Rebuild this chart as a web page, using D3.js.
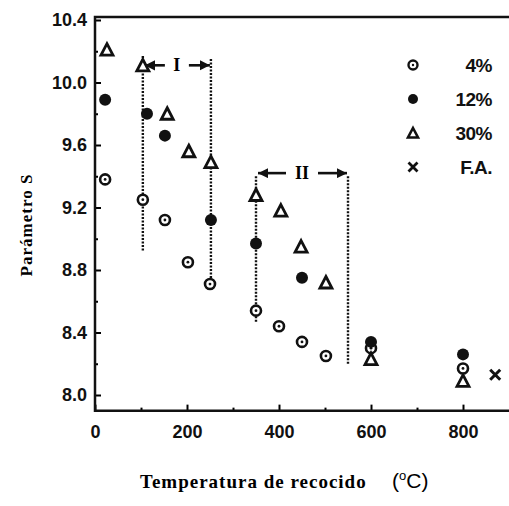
<!DOCTYPE html>
<html>
<head>
<meta charset="utf-8">
<script src="https://cdn.jsdelivr.net/npm/d3@7"></script>
<style>
  body { margin: 0; background: #fff; }
  .tick text { font-family: "Liberation Sans", Arial, sans-serif; font-weight: bold; font-size: 18px; fill: #111; }
</style>
</head>
<body>
<div id="chart"></div>
<script>
// values
var temp4 = [22, 104, 152, 202, 250, 350, 400, 450, 502, 600, 800];
var s4    = [9.38, 9.25, 9.12, 8.85, 8.71, 8.54, 8.44, 8.34, 8.25, 8.30, 8.17];
var temp12 = [22, 113, 152, 252, 350, 450, 600, 800];
var s12    = [9.89, 9.80, 9.66, 9.12, 8.97, 8.75, 8.34, 8.26];
var temp30 = [26, 104, 157, 204, 252, 350, 404, 448, 502, 600, 800];
var s30    = [10.21, 10.11, 9.80, 9.56, 9.49, 9.28, 9.18, 8.95, 8.72, 8.23, 8.09];
var tempFA = [870];
var sFA    = [8.13];

var xTicks = [0, 200, 400, 600, 800];
var yTicks = [8.0, 8.4, 8.8, 9.2, 9.6, 10.0, 10.4];
var legendLabels = ["4%", "12%", "30%", "F.A."];

// dotted boundaries: [temperature, top S, bottom S]
var regionLines = [[104, 10.17, 8.92], [252, 10.15, 8.70], [350, 9.40, 8.46], [550, 9.40, 8.20]];
var regionI = [104, 252], regionII = [350, 550];

var W = 509, H = 506;
var margin = { top: 17, left: 95, bottom: 96 };

var x = d3.scaleLinear().domain([0, 900]).range([margin.left, margin.left + 414]);
var y = d3.scaleLinear().domain([8.0, 10.4]).range([395, 20]);

var svg = d3.select("#chart").append("svg")
    .attr("width", W).attr("height", H);

var yBottom = y(7.9), yTop = margin.top;

// axes (ticks point inward)
var xAxis = svg.append("g")
    .attr("transform", "translate(0," + yBottom + ")")
    .call(d3.axisBottom(x).tickValues(xTicks).tickSize(-6).tickPadding(12).tickFormat(d3.format("d")));
xAxis.select(".domain").remove();
xAxis.selectAll(".tick line").attr("stroke-width", 2);
xAxis.selectAll(".tick text").attr("dy", "0.85em");

svg.append("g")
    .attr("transform", "translate(0," + yBottom + ")")
    .call(d3.axisBottom(x).tickValues([100, 300, 500, 700]).tickSize(-3).tickFormat(""))
    .call(function(g){ g.select(".domain").remove(); g.selectAll("line").attr("stroke-width", 2); });

var yAxis = svg.append("g")
    .attr("transform", "translate(" + margin.left + ",0)")
    .call(d3.axisLeft(y).tickValues(yTicks).tickSize(-6).tickPadding(8).tickFormat(d3.format(".1f")));
yAxis.select(".domain").remove();
yAxis.selectAll(".tick line").attr("stroke-width", 2);

svg.append("g")
    .attr("transform", "translate(" + margin.left + ",0)")
    .call(d3.axisLeft(y).tickValues([8.2, 8.6, 9.0, 9.4, 9.8, 10.2]).tickSize(-3).tickFormat(""))
    .call(function(g){ g.select(".domain").remove(); g.selectAll("line").attr("stroke-width", 2); });

// frame: left, bottom, top
svg.append("path")
    .attr("d", "M" + W + "," + yTop + "H" + margin.left + "V" + yBottom + "H" + W)
    .attr("fill", "none").attr("stroke", "#111").attr("stroke-width", 2.5);

// dotted region boundaries
svg.selectAll(".region").data(regionLines).enter().append("line")
    .attr("x1", d => x(d[0])).attr("x2", d => x(d[0]))
    .attr("y1", d => y(d[1])).attr("y2", d => y(d[2]))
    .attr("stroke", "#111").attr("stroke-width", 2.4).attr("stroke-dasharray", "2,1.5");

svg.append("defs").append("marker")
    .attr("id", "arr").attr("viewBox", "0 0 10 10").attr("refX", 10).attr("refY", 5)
    .attr("markerWidth", 4).attr("markerHeight", 4).attr("orient", "auto")
  .append("path").attr("d", "M0,0L10,5L0,10z").attr("fill", "#111");

function bracket(r, sVal, label, gap) {
  var yy = y(sVal), mid = (x(r[0]) + x(r[1])) / 2;
  svg.append("line").attr("x1", mid - gap).attr("x2", x(r[0]) + 2).attr("y1", yy).attr("y2", yy)
      .attr("stroke", "#111").attr("stroke-width", 2.6).attr("marker-end", "url(#arr)");
  svg.append("line").attr("x1", mid + gap).attr("x2", x(r[1]) - 1).attr("y1", yy).attr("y2", yy)
      .attr("stroke", "#111").attr("stroke-width", 2.6).attr("marker-end", "url(#arr)");
  svg.append("text").attr("x", mid).attr("y", yy + 6).attr("text-anchor", "middle")
      .style("font-family", "Liberation Serif, serif").style("font-weight", "bold").style("font-size", "18px")
      .text(label);
}
bracket(regionI, 10.11, "I", 12);
bracket(regionII, 9.42, "II", 16);

// markers
function drawCircles(t, s, filled) {
  var g = svg.append("g");
  t.forEach(function(tv, i) {
    if (filled) {
      g.append("circle").attr("cx", x(tv)).attr("cy", y(s[i])).attr("r", 6).attr("fill", "#111");
    } else {
      g.append("circle").attr("cx", x(tv)).attr("cy", y(s[i])).attr("r", 5)
          .attr("fill", "#fff").attr("stroke", "#111").attr("stroke-width", 2.6);
      g.append("circle").attr("cx", x(tv)).attr("cy", y(s[i])).attr("r", 1.4).attr("fill", "#111");
    }
  });
}
function drawTriangles(t, s) {
  svg.append("g").selectAll("path").data(t).enter().append("path")
      .attr("d", "M0,-6L6,5.5L-6,5.5Z")
      .attr("transform", (d, i) => "translate(" + x(d) + "," + y(s[i]) + ")")
      .attr("fill", "#fff").attr("stroke", "#111").attr("stroke-width", 2.8).attr("stroke-linejoin", "miter");
}
function drawCrosses(t, s) {
  svg.append("g").selectAll("path").data(t).enter().append("path")
      .attr("d", "M-5,-5L5,5M5,-5L-5,5")
      .attr("transform", (d, i) => "translate(" + x(d) + "," + y(s[i]) + ")")
      .attr("stroke", "#111").attr("stroke-width", 3);
}
drawCircles(temp4, s4, false);
drawCircles(temp12, s12, true);
drawTriangles(temp30, s30);
drawCrosses(tempFA, sFA);

// legend
var legY = [65, 99, 133, 167];
legendLabels.forEach(function(l, i) {
  var lx = 413, ly = legY[i];
  if (i === 0) {
    svg.append("circle").attr("cx", lx).attr("cy", ly).attr("r", 4.5).attr("fill", "#fff").attr("stroke", "#111").attr("stroke-width", 2.4);
    svg.append("circle").attr("cx", lx).attr("cy", ly).attr("r", 1.2).attr("fill", "#111");
  } else if (i === 1) {
    svg.append("circle").attr("cx", lx).attr("cy", ly).attr("r", 5).attr("fill", "#111");
  } else if (i === 2) {
    svg.append("path").attr("d", "M0,-5L5,4.5L-5,4.5Z").attr("transform", "translate(" + lx + "," + ly + ")")
        .attr("fill", "#fff").attr("stroke", "#111").attr("stroke-width", 2.6);
  } else {
    svg.append("path").attr("d", "M-4.5,-4.5L4.5,4.5M4.5,-4.5L-4.5,4.5").attr("transform", "translate(" + lx + "," + ly + ")")
        .attr("stroke", "#111").attr("stroke-width", 2.8);
  }
  svg.append("text").attr("x", 492).attr("y", ly + 7).attr("text-anchor", "end")
      .style("font-family", "Liberation Sans, Arial, sans-serif").style("font-weight", "bold").style("font-size", "19px")
      .style("letter-spacing", "-0.5px").style("fill", "#111")
      .text(l);
});

// axis titles
svg.append("text")
    .attr("transform", "translate(32,225) rotate(-90)")
    .attr("text-anchor", "middle")
    .style("font-family", "Liberation Serif, serif").style("font-weight", "bold").style("font-size", "17px")
    .style("letter-spacing", "1px")
    .text("Parámetro S");

var xt = svg.append("text").attr("x", 140).attr("y", 488)
    .style("font-family", "Liberation Serif, serif").style("font-weight", "bold").style("font-size", "19px")
    .style("letter-spacing", "1px");
xt.append("tspan").text("Temperatura de recocido");
var unit = xt.append("tspan").attr("x", 392)
    .style("font-family", "Liberation Sans, Arial, sans-serif").style("font-weight", "normal")
    .style("font-size", "21px").style("letter-spacing", "0px");
unit.text("(");
unit.append("tspan").attr("dy", -8).style("font-size", "13px").text("o");
unit.append("tspan").attr("dy", 8).text("C)");
</script>
</body>
</html>
